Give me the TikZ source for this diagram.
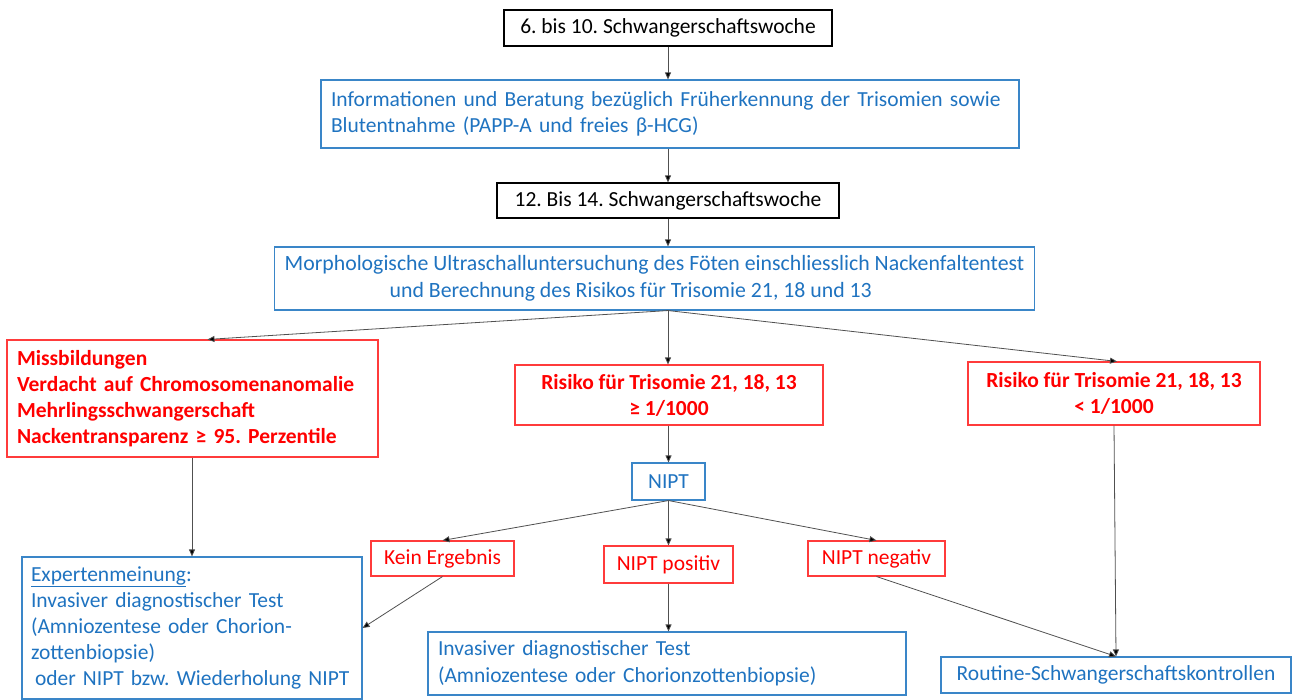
\documentclass[tikz,border=0pt]{standalone}
\usepackage{fontspec}
\setmainfont{Carlito}
\frenchspacing
\usetikzlibrary{arrows.meta,calc}
\definecolor{txtblue}{HTML}{1F73C0}
\definecolor{brdblue}{HTML}{3A86C8}
\definecolor{txtred}{HTML}{FF0000}
\definecolor{brdred}{HTML}{FF3B3B}
\definecolor{linegray}{HTML}{505050}
\tikzset{
  base/.style={draw, line width=1.1pt, inner xsep=10pt, inner ysep=2pt,
    font=\fontsize{21.5}{26.5}\selectfont\frenchspacing},
  blackbox/.style={base, draw=black, text=black, align=center},
  bluebox/.style={base, draw=brdblue, text=txtblue},
  redbox/.style={base, draw=brdred, text=txtred},
  conn/.style={draw=linegray, line width=0.8pt, -{Triangle[length=7pt,width=6pt,fill=black]}}
}
\begin{document}
\begin{tikzpicture}[x=1pt,y=-1pt]
\useasboundingbox (0,0) rectangle (1300,700);
% top
\node[blackbox, minimum width=328pt, minimum height=36pt] (b1) at (668,28) {6. bis 10. Schwangerschaftswoche};
\node[bluebox, minimum height=68pt, text width=678pt, align=left] (b2) at (670,114)
  {Informationen und Beratung bezüglich Früherkennung der Trisomien sowie\\Blutentnahme (PAPP-A und freies β-HCG)};
\node[blackbox, minimum width=342pt, minimum height=35pt] (b3) at (668,200.5) {12. Bis 14. Schwangerschaftswoche};
\node[bluebox, font=\fontsize{21.8}{26.5}\selectfont\frenchspacing, minimum width=753pt, minimum height=63pt, align=left] (b4) at (654.5,278.5)
  {Morphologische Ultraschalluntersuchung des Föten einschliesslich Nackenfaltentest\\\hspace*{105pt}und Berechnung des Risikos für Trisomie 21, 18 und 13};
% red row
\node[redbox, font=\fontsize{21.5}{26}\selectfont\bfseries\frenchspacing, minimum height=117pt, text width=351pt, align=left] (miss) at (192.5,398.5)
  {Missbildungen\\Verdacht auf Chromosomenanomalie\\Mehrlingsschwangerschaft\\Nackentransparenz ≥ 95. Perzentile};
\node[redbox, font=\fontsize{21.5}{26}\selectfont\bfseries\frenchspacing, minimum width=308pt, minimum height=60pt, align=center] (mid) at (669,395)
  {Risiko für Trisomie 21, 18, 13\\≥ 1/1000};
\node[redbox, font=\fontsize{21.5}{26}\selectfont\bfseries\frenchspacing, minimum width=292pt, minimum height=63pt, align=center] (rgt) at (1114,393.5)
  {Risiko für Trisomie 21, 18, 13\\< 1/1000};
% NIPT
\node[bluebox, minimum width=73pt, minimum height=37pt, inner xsep=4pt] (nipt) at (668.5,481.5) {NIPT};
\node[redbox, minimum width=143pt, minimum height=35pt, inner xsep=4pt] (kein) at (442.5,558.5) {Kein Ergebnis};
\node[redbox, minimum width=129pt, minimum height=37pt, inner xsep=4pt] (pos) at (668.5,564.5) {NIPT positiv};
\node[redbox, minimum width=137pt, minimum height=35pt, inner xsep=4pt] (neg) at (876.5,558.5) {NIPT negativ};
% bottom
\node[bluebox, font=\fontsize{21.5}{26}\selectfont\frenchspacing, minimum height=142pt, text width=322pt, inner xsep=9pt, align=left] (exp) at (192,628)
  {\underline{Expertenmeinung}:\\Invasiver diagnostischer Test\\(Amniozentese oder Chorion-\\zottenbiopsie)\\\hspace*{4pt}oder NIPT bzw. Wiederholung NIPT};
\node[bluebox, minimum height=63pt, text width=458pt, align=left] (inv) at (667,663.5)
  {Invasiver diagnostischer Test\\(Amniozentese oder Chorionzottenbiopsie)};
\node[bluebox, minimum width=350pt, minimum height=36pt, align=center] (rout) at (1116,675) {Routine-Schwangerschaftskontrollen};
% connectors
\draw[conn] (b1.south) -- (b1.south |- b2.north);
\draw[conn] (b2.south -| b1.south) -- (b1.south |- b3.north);
\draw[conn] (b3.south) -- (b3.south |- b4.north);
\coordinate (s4) at (b4.south -| b3.south);
\draw[conn] (s4) -- ([xshift=15pt]miss.north);
\draw[conn] (s4) -- (s4 |- mid.north);
\draw[conn] (s4) -- ([xshift=3pt]rgt.north);
\draw[conn] (mid.south -| nipt.south) -- (nipt.north);
\draw[conn] (nipt.south) -- (kein.north);
\draw[conn] (nipt.south) -- (pos.north);
\draw[conn] (nipt.south) -- (neg.north);
\draw[conn] (miss.south -| exp.north) -- (exp.north);
\draw[conn] (kein.south) -- (exp.east);
\draw[conn] (pos.south) -- (pos.south |- inv.north);
\draw[conn] (neg.south) -- (rout.north);
\draw[conn] (rgt.south) -- (rout.north);
\end{tikzpicture}
\end{document}
